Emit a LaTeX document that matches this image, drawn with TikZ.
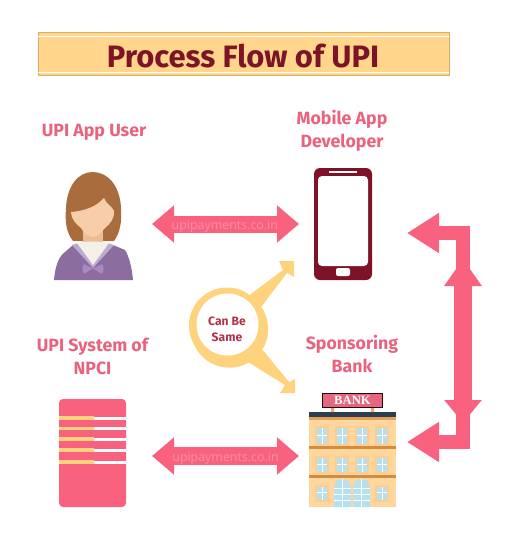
\documentclass[tikz,border=0pt]{standalone}
\usepackage{fontspec}
\setmainfont{Fira Sans}
\newfontfamily\wmfont{Open Sans}
\newfontfamily\signfont{Liberation Serif}
\usetikzlibrary{arrows.meta}
\definecolor{pinkarrow}{HTML}{F9627F}
\definecolor{pinklabel}{HTML}{E9637E}
\definecolor{maroon}{HTML}{7E1226}
\definecolor{titlefill}{HTML}{FFD68C}
\definecolor{titleedge}{HTML}{D6AE64}
\definecolor{ringc}{HTML}{FFD27E}
\definecolor{wm}{HTML}{F78FA6}
\definecolor{hair}{HTML}{A96D3D}
\definecolor{skin}{HTML}{F8CDA9}
\definecolor{neck}{HTML}{EDBB94}
\definecolor{purple1}{HTML}{8B6E9F}
\definecolor{lilac}{HTML}{BDABCF}
\definecolor{bow}{HTML}{A98BC1}
\definecolor{shirt}{HTML}{F3F0E8}
\definecolor{bldg}{HTML}{FFD79C}
\definecolor{band}{HTML}{D48B3E}
\definecolor{frame1}{HTML}{FFCC8E}
\definecolor{glass}{HTML}{B5E0F0}
\definecolor{roof}{HTML}{2C3E50}
\tikzset{
  x=.75pt,y=-.75pt,
  labeltext/.style={text=pinklabel,font=\fontsize{13.3}{17.25}\selectfont\bfseries,align=center,inner sep=0pt},
  fat/.style={draw=pinkarrow,line width=12.75pt,{Triangle[length=16.5pt,width=27pt]}-{Triangle[length=16.5pt,width=27pt]}},
  wmark/.style={text=wm,font=\wmfont\fontsize{9.3}{11}\selectfont,inner sep=0pt},
  blank/.style={inner sep=0pt,outer sep=0pt},
  canfill/.style={fill=ringc,draw=none},
}
\begin{document}
\begin{tikzpicture}
\useasboundingbox (0,0) rectangle (515,551);
\fill[white] (0,0) rectangle (515,551);
% title
\node[blank,draw=titleedge,fill=titlefill,minimum width=308pt,minimum height=32pt,line width=.5pt] (titlebox) at (243.5,53.5) {};
\draw[white,line width=.6pt] (titlebox.west |- 0,36) -- (titlebox.east |- 0,36);
\draw[white,line width=.6pt] (titlebox.west |- 0,72.5) -- (titlebox.east |- 0,72.5);
\node[blank,text=maroon,font=\fontsize{23.2}{28}\selectfont\bfseries] (title) at (243,56) {Process Flow of UPI};
% labels
\node[labeltext] (lbluser) at (94,132) {UPI App User};
\node[labeltext] (lbldev) at (342,131) {Mobile App\\Developer};
\node[labeltext] (lblnpci) at (92.5,356) {UPI System of\\NPCI};
\node[labeltext] (lblbank) at (352,354) {Sponsoring\\Bank};
% user
\node[blank,minimum width=59.25pt,minimum height=81pt] (user) at (93.5,224) {};
\fill[hair] (73,241) .. controls (66,232) and (65,222) .. (66,208) .. controls (67,186) and (78,172) .. (92.7,172) .. controls (108,172) and (120,186) .. (121,208) .. controls (122,222) and (120,233) .. (114,241) -- cycle;
\fill[neck] (83,228) rectangle (103,243);
\fill[skin] (71,212) .. controls (84,211) and (96,207) .. (104,198) .. controls (106,204) and (112,206) .. (114,211) .. controls (115,218) and (110,224) .. (105,228) .. controls (101,233) and (97,237) .. (93,237) .. controls (88,237) and (84,233) .. (81,228) .. controls (76,224) and (71,219) .. (71,212) -- cycle;
\fill[purple1] (54,280) .. controls (55,268) and (58,257) .. (65,252) -- (73,245) -- (113,245) -- (125,250) .. controls (129,256) and (132,268) .. (133,280) -- cycle;
\fill[lilac] (72,245) -- (78,243) -- (108,243) -- (114,245) -- (93,268) -- cycle;
\fill[shirt] (77,243) .. controls (86,241) and (100,241) .. (109,243) -- (93,265) -- cycle;
\fill[bow] (93,268.5) -- (84,264) .. controls (82,267) and (82,271) .. (84,274) -- cycle;
\fill[bow] (93,268.5) -- (102,264) .. controls (104,267) and (104,271) .. (102,274) -- cycle;
% phone
\node[blank,fill=maroon,rounded corners=4.5pt,minimum width=43.5pt,minimum height=84pt] (phone) at (343,224) {};
\fill[white,rounded corners=3pt] (318,176) rectangle (368,266);
\fill[white] (329,171) rectangle (357,173);
\fill[white,rounded corners=1.5pt] (336,268) rectangle (350,276);
% server
\node[blank,fill=pinkarrow,rounded corners=3pt,minimum width=50.25pt,minimum height=81pt] (server) at (92.5,453) {};
\foreach \yy in {418,428.5,439,450,462}{
  \fill[ringc] (59,\yy-1.8) rectangle (94,\yy+1.8);
  \fill[white] (94,\yy-1.5) rectangle (126,\yy+1.5);
}
% bank
\node[blank,fill=bldg,minimum width=65.25pt,minimum height=71.25pt] (bank) at (352.5,459.5) {};
\fill[band!70!bldg] (309,417) rectangle (396,420);
\fill[roof] (309,412) rectangle (396,417);
\fill[band] (309,446) rectangle (396,449);
\fill[band] (309,475) rectangle (396,478);
\fill[band!60!bldg] (331,408) rectangle (334,412) (371,408) rectangle (374,412);
\node[blank,draw=black!70!maroon,fill=pinkarrow!85!gray,line width=.8pt,minimum width=45pt,minimum height=10.5pt,text=white,font=\signfont\bfseries\fontsize{9.5}{10}\selectfont] (sign) at (352.5,400.5) {BANK};
\foreach \xx/\yy/\hh in {322/428/16,342/428/16,362/428/16,382/428/16,322/458/14,342/458/14,362/458/14,382/458/14,322/487/13,382/487/13}{
  \fill[frame1] (\xx-7,\yy-2) rectangle (\xx+7,\yy+\hh+2);
  \fill[glass] (\xx-5,\yy) rectangle (\xx+5,\yy+\hh);
  \draw[white,line width=.6pt] (\xx,\yy) -- (\xx,\yy+\hh) (\xx-5,\yy+\hh/2-1) -- (\xx+5,\yy+\hh/2-1);
}
\foreach \xx in {334,353}{
  \fill[glass] (\xx,507) -- (\xx,489) .. controls (\xx,483) and (\xx+3,479) .. (\xx+8.5,479) .. controls (\xx+14,479) and (\xx+17,483) .. (\xx+17,489) -- (\xx+17,507) -- cycle;
  \foreach \yy in {488,494,500}{\draw[white,line width=.6pt] (\xx,\yy) -- (\xx+17,\yy);}
  \draw[white,line width=.6pt] (\xx+8.5,479) -- (\xx+8.5,507);
}
% horizontal connectors
\coordinate (midlow) at (225,456);
\draw[fat,shorten <=14.25pt,shorten >=11.25pt] (user.east) -- (phone.west) node[midway,wmark,xshift=1pt,yshift=-1.5pt] (wm1) {upipayments.co.in};
\draw[fat,line width=14pt,shorten <=19.5pt,shorten >=7.5pt] (server.east |- midlow) -- (bank.west |- midlow) node[midway,wmark,xshift=6pt,yshift=-2pt] (wm2) {upipayments.co.in};
% right elbow connector
\coordinate (rt) at (463,233);
\coordinate (rb) at (463,442);
\draw[draw=pinkarrow,line width=10.2pt,miter limit=10,{Triangle[length=24pt,width=28.5pt]}-{Triangle[length=24pt,width=28.5pt]},shorten <=26.25pt,shorten >=8.25pt] (phone.east |- rt) -- (rt) -- (rb) -- (bank.east |- rb);
\draw[draw=pinkarrow,line width=13.5pt,{Triangle[length=20.25pt,width=27pt]}-{Triangle[length=17.25pt,width=27pt]},shorten <=19.5pt,shorten >=-8.25pt] (rt) -- (rb |- 0,412);
% can be same
\node[blank,circle,minimum size=57pt,fill=ringc] (ringa) at (227,325.5) {};
\node[blank,circle,minimum size=58pt,fill=ringc] (ring) at (229.5,329) {};
\coordinate (uptip) at (294,261);
\coordinate (downtip) at (295,393);
\fill[canfill] (ring.60) -- (283,270) -- (279,261) -- (uptip) -- (294,277) -- (287,273) -- (ring.35) -- cycle;
\fill[canfill] (ring.-60) -- (285,385) -- (280,393) -- (downtip) -- (295,379) -- (289,382) -- (ring.-32) -- cycle;
\node[blank,circle,minimum size=46.5pt,fill=white] (hole) at (227.5,324.5) {};
\node[blank,align=center,text=maroon!60!pinkarrow,font=\fontsize{9.1}{12}\selectfont\bfseries] (same) at (227,329) {Can Be\\Same};
\end{tikzpicture}
\end{document}
